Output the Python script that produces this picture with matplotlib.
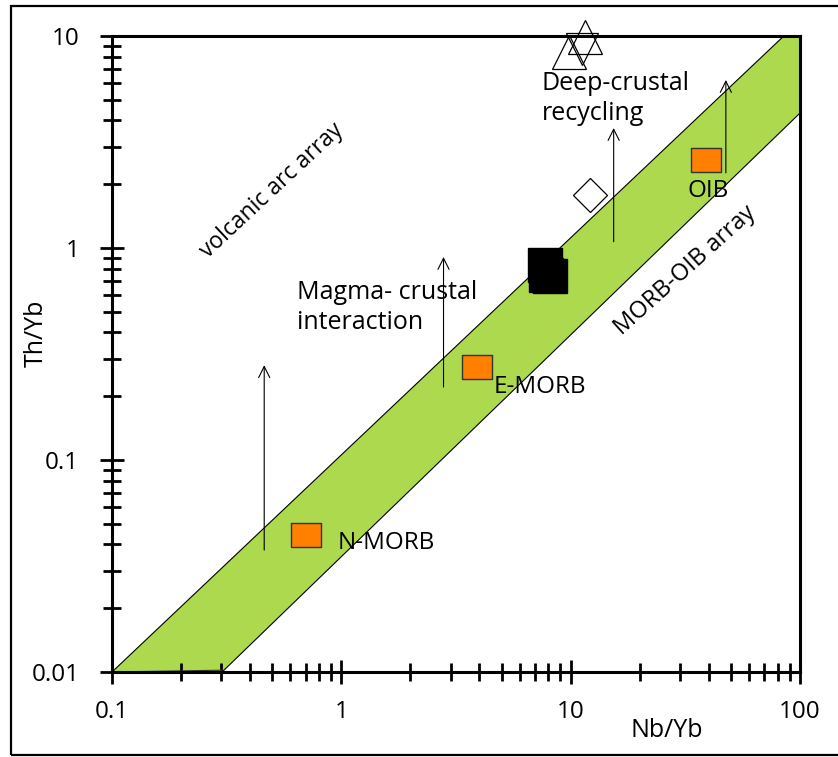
"""Th/Yb vs Nb/Yb discrimination diagram (MORB-OIB array)."""

import matplotlib
matplotlib.use("Agg")
import matplotlib.pyplot as plt
from matplotlib.patches import Polygon, Rectangle
from matplotlib.ticker import LogLocator, NullFormatter

plt.rcParams["font.family"] = ["Open Sans", "DejaVu Sans"]

# MORB-OIB array outline (Nb/Yb, Th/Yb)
band_x = [0.1, 85, 100, 100, 0.302]
band_y = [0.01, 10, 10, 4.33, 0.01]

# reference compositions
ref_names = ["N-MORB", "E-MORB", "OIB"]
ref_nb = [0.70, 3.89, 39.1]
ref_th = [0.0443, 0.276, 2.6]

# samples
black_nb = [7.74, 8.14, 7.78]
black_th = [0.827, 0.734, 0.746]
tri_up_nb = [11.5, 9.85]
tri_up_th = [9.84, 8.4]
tri_down_nb = [11.2]
tri_down_th = [8.73]
diamond_nb = [12.1]
diamond_th = [1.78]

# trend arrows: x, start y, tip y
arrow_x = [0.461, 2.79, 15.4, 47.5]
arrow_y0 = [0.0376, 0.221, 1.07, 2.26]
arrow_y1 = [0.28, 0.907, 3.68, 6.2]

x_ticks = [0.1, 1, 10, 100]
x_labels = ["0.1", "1", "10", "100"]
y_ticks = [0.01, 0.1, 1, 10]
y_labels = ["0.01", "0.1", "1", "10"]

GREEN = "#acd94e"
ORANGE = "#ff8000"

fig = plt.figure(figsize=(8.38, 7.57), dpi=100)
ax = fig.add_axes([112 / 838, 1 - 672 / 757, 688 / 838, 636 / 757])
ax.set_xscale("log")
ax.set_yscale("log")
ax.set_xlim(0.1, 100)
ax.set_ylim(0.01, 10)

# outer frame
fig.add_artist(Rectangle((11 / 838, 1 - 755 / 757), 1.0, 749 / 757,
                         transform=fig.transFigure, fill=False,
                         lw=1.6, ec="black"))

# band
ax.add_patch(Polygon(list(zip(band_x, band_y)), closed=True,
                     fc=GREEN, ec="none", zorder=1))
ax.plot(band_x[:2], band_y[:2], color="black", lw=0.8, zorder=2)
ax.plot(band_x[3:], band_y[3:], color="black", lw=0.8, zorder=2)
ax.plot([band_x[0], band_x[4]], [band_y[0], band_y[4] * 1.02],
        color="#333333", lw=0.8, zorder=2)

# arrows
for x, y0, y1 in zip(arrow_x, arrow_y0, arrow_y1):
    ax.annotate("", xy=(x, y1), xytext=(x, y0),
                arrowprops=dict(arrowstyle="->", lw=0.8, color="black",
                                mutation_scale=20, shrinkA=0, shrinkB=0),
                zorder=3)

# reference points (slightly wide rectangles)
rect_marker = [(-1.25, -1), (1.25, -1), (1.25, 1), (-1.25, 1), (-1.25, -1)]
ax.plot(ref_nb, ref_th, linestyle="none", marker=rect_marker, ms=21.6,
        mfc=ORANGE, mec="#333333", mew=1.0, zorder=4)

ax.plot(black_nb, black_th, linestyle="none", marker="s", ms=25,
        mfc="black", mec="black", zorder=4)
ax.plot(diamond_nb, diamond_th, linestyle="none", marker="D", ms=17,
        mfc="white", mec="black", mew=0.9, zorder=4)
ax.plot(tri_up_nb, tri_up_th, linestyle="none", marker="^", ms=24,
        mfc="none", mec="black", mew=0.9, zorder=5, clip_on=False)
ax.plot(tri_down_nb, tri_down_th, linestyle="none", marker="v", ms=23,
        mfc="none", mec="black", mew=0.9, zorder=5, clip_on=False)

# labels (multi-line texts anchored on the baseline of their last line)
ax.text(0.96, 0.038, "N-MORB", fontsize=17.5, va="baseline", ha="left", zorder=6)
ax.text(4.61, 0.207, "E-MORB", fontsize=17.5, va="baseline", ha="left", zorder=6)
ax.text(39.6, 1.74, "OIB", fontsize=17.5, va="baseline", ha="center", zorder=6)
ax.text(0.643, 0.415, "Magma- crustal\ninteraction", fontsize=18,
        va="baseline", ha="left", linespacing=1.25, zorder=6)
ax.text(7.46, 4.02, "Deep-crustal\nrecycling", fontsize=18,
        va="baseline", ha="left", linespacing=1.25, zorder=6)
ax.text(0.5, 1.86, "volcanic arc array", fontsize=16.5, rotation=43,
        rotation_mode="anchor", ha="center", va="center", zorder=6)
ax.text(31.5, 0.78, "MORB-OIB array", fontsize=17, rotation=42,
        rotation_mode="anchor", ha="center", va="center", zorder=6)

# axes styling
for side in ["left", "bottom", "top", "right"]:
    ax.spines[side].set_linewidth(2.2)
    ax.spines[side].set_zorder(7)

ax.set_xticks(x_ticks, labels=x_labels)
ax.set_yticks(y_ticks, labels=y_labels)
ax.xaxis.set_minor_locator(LogLocator(base=10, subs=range(2, 10)))
ax.yaxis.set_minor_locator(LogLocator(base=10, subs=range(2, 10)))
ax.xaxis.set_minor_formatter(NullFormatter())
ax.yaxis.set_minor_formatter(NullFormatter())
ax.tick_params(which="major", direction="inout", length=17, width=2,
               labelsize=17.5, top=False, right=False)
ax.tick_params(which="minor", direction="inout", length=13, width=2,
               top=False, right=False)
ax.tick_params(axis="x", which="major", pad=11.5)
ax.tick_params(axis="y", which="major", pad=15)

ax.set_xlabel("Nb/Yb", fontsize=18)
ax.xaxis.set_label_coords((667 - 112) / 688, (672 - 718) / 636)
ax.set_ylabel("Th/Yb", fontsize=18, va="center")
ax.yaxis.set_label_coords((36 - 112) / 688, (672 - 333) / 636)

fig.savefig("out.png", dpi=100)
